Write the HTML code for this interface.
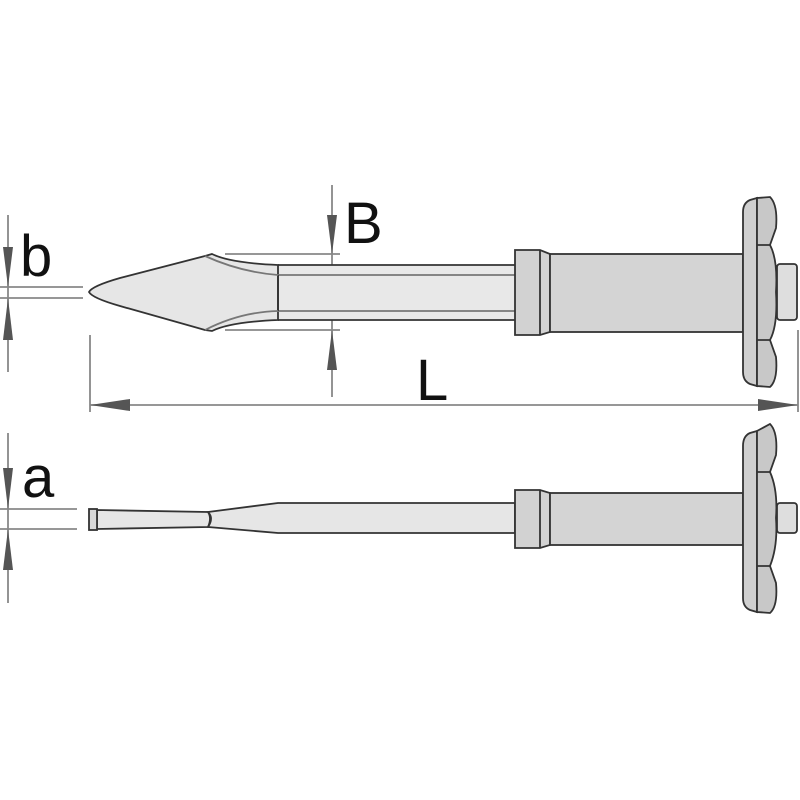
<!DOCTYPE html>
<html><head><style>body{margin:0;background:#fff}svg{display:block}</style></head><body>
<svg width="800" height="800" viewBox="0 0 800 800" xmlns="http://www.w3.org/2000/svg">
<g stroke="#888" stroke-width="1.8" fill="none">
<line x1="8" y1="215" x2="8" y2="372"/>
<line x1="0" y1="287" x2="83" y2="287"/><line x1="0" y1="298" x2="83" y2="298"/>
<line x1="332" y1="185" x2="332" y2="397"/>
<line x1="225" y1="254" x2="340" y2="254"/><line x1="225" y1="330" x2="340" y2="330"/>
<line x1="90" y1="335" x2="90" y2="412"/><line x1="798" y1="330" x2="798" y2="412"/>
<line x1="90" y1="405" x2="798" y2="405"/>
<line x1="8" y1="433" x2="8" y2="603"/>
<line x1="0" y1="509" x2="77" y2="509"/><line x1="0" y1="529" x2="77" y2="529"/>
</g>
<g fill="#555">
<path d="M3,247 L13,247 L8,287z"/><path d="M3,340 L13,340 L8,298z"/>
<path d="M327,215 L337,215 L332,254z"/><path d="M327,370 L337,370 L332,330z"/>
<path d="M90,405 L130,399 L130,411z"/><path d="M798,405 L758,399 L758,411z"/>
<path d="M3,468 L13,468 L8,509z"/><path d="M3,570 L13,570 L8,529z"/>
</g>
<g stroke="#333" stroke-width="1.8">
<path d="M278,265 L515,265 L515,320 L278,320z" fill="#e8e8e8" stroke="none"/>
<path d="M89,292 Q92,286 120,278 L205,256 L212,254 Q230,263 278,265 L278,320 Q230,322 212,331 L205,330 L120,306 Q92,298 89,292z" fill="#e6e6e6"/>
<line x1="278" y1="265" x2="515" y2="265"/><line x1="278" y1="320" x2="515" y2="320"/>
<line x1="278" y1="275" x2="515" y2="275" stroke="#777"/><line x1="278" y1="311" x2="515" y2="311" stroke="#777"/>
<line x1="278" y1="275" x2="278" y2="311"/>
<path d="M205,256 Q240,272 278,275 M205,330 Q240,312 278,311" fill="none" stroke="#777"/>
<path d="M515,250 L540,250 L550,254 L550,332 L540,335 L515,335z" fill="#d2d2d2"/>
<line x1="540" y1="250" x2="540" y2="335"/>
<rect x="550" y="254" width="193" height="78" fill="#d4d4d4"/>
<rect x="777" y="264" width="20" height="56" rx="3" fill="#dedede"/>
<path d="M757,198 L750,200 Q743,203 743,212 L743,372 Q743,381 750,384 L757,386z" fill="#cfcfcf"/>
<path d="M757,198 L770,197 Q778,205 776,228 L770,245 Q778,260 776,292 Q778,325 770,340 L776,357 Q778,380 770,387 L757,386z" fill="#c8c8c8"/>
<path d="M757,245 L770,245 M757,340 L770,340" fill="none"/>
</g>
<g stroke="#333" stroke-width="1.8">
<path d="M97,510 L208,512 Q212,518 208,527 L97,529z" fill="#e6e6e6"/>
<path d="M208,512 L278,503 L515,503 L515,533 L278,533 L208,527 Q214,518 208,512z" fill="#e6e6e6"/>
<rect x="89" y="509" width="8" height="21" fill="#d8d8d8"/>
<path d="M515,490 L540,490 L550,493 L550,545 L540,548 L515,548z" fill="#d2d2d2"/>
<line x1="540" y1="490" x2="540" y2="548"/>
<rect x="550" y="493" width="193" height="52" fill="#d4d4d4"/>
<rect x="777" y="503" width="20" height="30" rx="3" fill="#dedede"/>
<path d="M757,431 L750,433 Q743,436 743,446 L743,598 Q743,607 750,610 L757,612z" fill="#cfcfcf"/>
<path d="M757,431 L770,424 Q778,432 776,455 L770,472 Q778,490 776,518 Q778,546 770,566 L776,583 Q778,606 770,613 L757,612z" fill="#c8c8c8"/>
<path d="M757,472 L770,472 M757,566 L770,566" fill="none"/>
</g>
<g font-family="Liberation Sans, sans-serif" fill="#111" font-size="58">
<text x="20" y="276">b</text>
<text x="344" y="243">B</text>
<text x="416" y="400">L</text>
<text x="22" y="497">a</text>
</g>
</svg>
</body></html>
